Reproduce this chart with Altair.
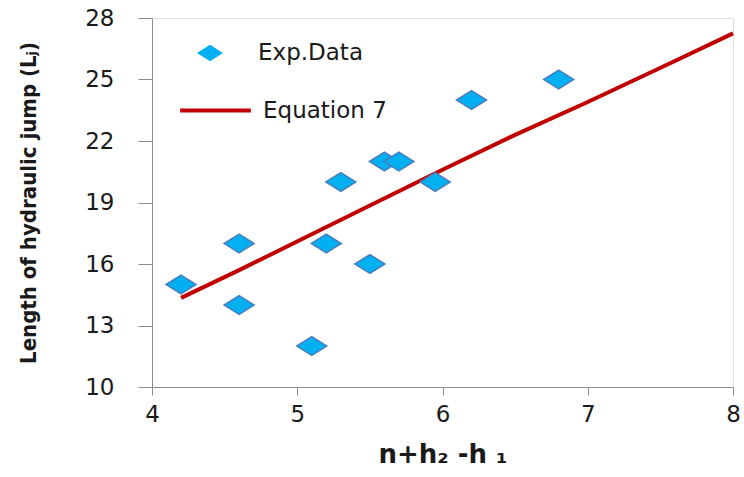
import altair as alt
import pandas as pd

# Experimental data
exp_x = [4.2, 4.6, 4.6, 5.1, 5.2, 5.3, 5.5, 5.6, 5.7, 5.95, 6.2, 6.8]
exp_y = [15, 17, 14, 12, 17, 20, 16, 21, 21, 20, 24, 25]

# Equation 7 curve
eq_x = [4.2, 4.6, 5.1, 5.5, 6.0, 6.5, 7.0, 7.6, 8.0]
eq_y = [14.35, 15.7, 17.45, 18.85, 20.6, 22.3, 23.9, 25.9, 27.25]

x_ticks = [4, 5, 6, 7, 8]
y_ticks = [10, 13, 16, 19, 22, 25, 28]

df_exp = pd.DataFrame({"x": exp_x, "y": exp_y, "series": "Exp.Data"})
df_eq = pd.DataFrame({"x": eq_x, "y": eq_y, "series2": "Equation 7"})

FONT = "DejaVu Sans"
DIAMOND = "M-1,0L0,-0.63L1,0L0,0.63Z"

xscale = alt.Scale(domain=[4, 8], nice=False, zero=False)
yscale = alt.Scale(domain=[10, 28], nice=False, zero=False)

xaxis = alt.Axis(
    values=x_ticks, title="n+h₂ -h ₁", grid=False,
    tickSize=8, labelPadding=8, labelFontSize=23, labelFont=FONT,
    labelColor="#1a1a1a", domainColor="#8c8c8c", tickColor="#8c8c8c",
    titleFont=FONT, titleFontSize=26, titleFontWeight="bold",
    titleColor="#1a1a1a", titlePadding=15, labelFlush=False,
)
yaxis = alt.Axis(
    values=y_ticks, title="Length of hydraulic jump (Lⱼ)", grid=False,
    tickSize=14, labelPadding=24, labelFontSize=23, labelFont=FONT,
    labelColor="#1a1a1a", domainColor="#8c8c8c", tickColor="#8c8c8c",
    titleFont="DejaVu Sans Condensed", titleFontSize=22, titleFontWeight="bold",
    titleColor="#1a1a1a", titlePadding=44, labelFlush=False,
)

line = alt.Chart(df_eq).mark_line(strokeWidth=4, color="#c00000").encode(
    x=alt.X("x:Q", scale=xscale, axis=xaxis),
    y=alt.Y("y:Q", scale=yscale, axis=yaxis),
    color=alt.Color(
        "series2:N",
        scale=alt.Scale(domain=["Equation 7"], range=["#c00000"]),
        legend=alt.Legend(
            title=None, orient="none", legendX=26, legendY=55, padding=0,
            symbolType="stroke", symbolSize=5000, symbolStrokeWidth=4,
            labelFontSize=23, labelFont=FONT, labelColor="#1a1a1a",
            labelOffset=10,
        ),
    ),
)

points = alt.Chart(df_exp).mark_point(
    filled=True, fill="#00b0f0", stroke="#4a7fc0", strokeWidth=1.5,
    opacity=1, size=900,
).encode(
    x=alt.X("x:Q", scale=xscale, axis=xaxis),
    y=alt.Y("y:Q", scale=yscale, axis=yaxis),
    shape=alt.Shape(
        "series:N",
        scale=alt.Scale(domain=["Exp.Data"], range=[DIAMOND]),
        legend=alt.Legend(
            title=None, orient="none", legendX=45, legendY=22, padding=0,
            symbolSize=676, symbolFillColor="#00b0f0", symbolStrokeColor="#00b0f0",
            symbolStrokeWidth=0, labelFontSize=23, labelFont=FONT,
            labelColor="#1a1a1a", labelOffset=35,
        ),
    ),
)

chart = alt.layer(line, points).resolve_scale(color="independent", shape="independent").properties(
    width=581, height=369,
    autosize=alt.AutoSizeParams(type="none"),
    padding={"left": 152, "top": 18, "right": 11, "bottom": 90},
).configure_view(stroke="#8fb4e3", strokeWidth=1.5).configure(background="white")

chart.save("out.html", embed_options={"renderer": "svg", "actions": False})
